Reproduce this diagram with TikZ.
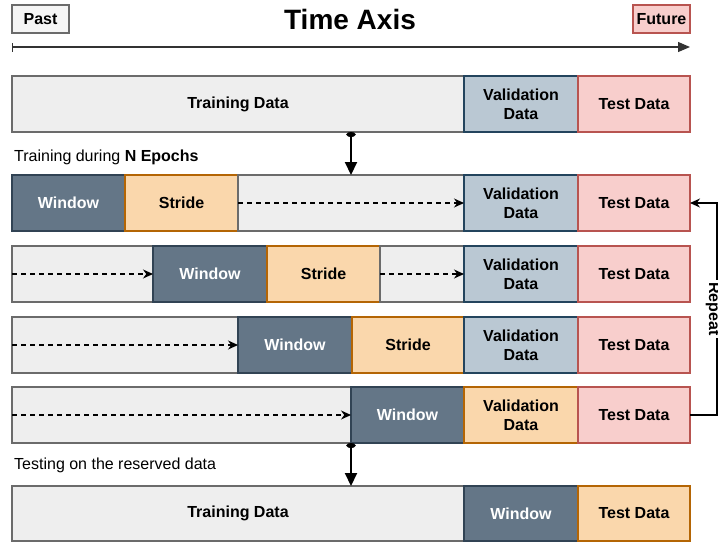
\documentclass[tikz,border=0pt]{standalone}
\usepackage{fontspec}
\setmainfont{Liberation Sans}
\usetikzlibrary{positioning,arrows.meta}

\definecolor{trainfill}{HTML}{EEEEEE}
\definecolor{trainline}{HTML}{6B6B6B}
\definecolor{winfill}{HTML}{647687}
\definecolor{winline}{HTML}{314354}
\definecolor{stridefill}{HTML}{FAD7AC}
\definecolor{strideline}{HTML}{B46504}
\definecolor{validfill}{HTML}{BAC8D3}
\definecolor{validline}{HTML}{23445D}
\definecolor{testfill}{HTML}{F8CECC}
\definecolor{testline}{HTML}{B85450}
\definecolor{pastfill}{HTML}{F5F5F5}

\tikzset{
  seg/.style={rectangle, draw, line width=1.2pt, minimum height=56pt,
    inner sep=0pt, outer sep=0pt, align=center,
    font=\bfseries\fontsize{16}{19}\selectfont},
  train/.style={seg, fill=trainfill, draw=trainline},
  win/.style={seg, fill=winfill, draw=winline, text=white},
  stride/.style={seg, fill=stridefill, draw=strideline},
  valid/.style={seg, fill=validfill, draw=validline},
  test/.style={seg, fill=testfill, draw=testline},
  flow/.style={-{Stealth[length=10pt,width=9pt]}, line width=1.2pt,
    dash pattern=on 5pt off 4pt},
  drop/.style={{Circle[length=5pt,width=9pt]}-{Triangle[length=13pt,width=12pt]},
    line width=2pt},
  caption/.style={anchor=west, inner sep=0pt, font=\fontsize{16}{19}\selectfont},
  tag/.style={rectangle, draw, line width=1.2pt, minimum width=57pt,
    minimum height=28pt, inner sep=0pt, font=\bfseries\fontsize{16}{19}\selectfont}
}

\begin{document}
\begin{tikzpicture}[x=1pt,y=-1pt]
    \useasboundingbox (0,0) rectangle (718,542);

    % time axis
    \node[tag, fill=pastfill, draw=trainline] (past) at (40.5,19) {Past};
    \node[tag, fill=testfill, draw=testline] (future) at (661.5,19) {Future};
    \node[font=\bfseries\fontsize{28}{32}\selectfont] (title) at (350,19) {Time Axis};
    \coordinate (axisL) at (12,47);
    \coordinate (axisR) at (690,47);
    \draw[{Bar[width=9pt]}-{Triangle[length=12pt,width=10pt]}, line width=1.2pt,
      draw=black!80] (axisL) -- (axisR);

    % row 1
    \node[train, minimum width=452pt, anchor=north west] (train1) at (12,76) {Training Data};
    \node[valid, minimum width=114pt, right=0pt of train1] (val1) {Validation\\Data};
    \node[test, minimum width=112pt, right=0pt of val1] (test1) {Test Data};

    \node[caption] (epochs) at (14,157) {Training during \textbf{N Epochs}};

    % row 2
    \node[win, minimum width=113pt, anchor=north west] (win2) at (12,175) {Window};
    \node[stride, minimum width=113pt, right=0pt of win2] (str2) {Stride};
    \node[train, minimum width=226pt, right=0pt of str2] (gap2) {};
    \node[valid, minimum width=114pt, right=0pt of gap2] (val2) {Validation\\Data};
    \node[test, minimum width=112pt, right=0pt of val2] (test2) {Test Data};
    \draw[flow] (gap2.west) -- (gap2.east);

    % row 3
    \node[train, minimum width=141pt, anchor=north west] (gapA3) at (12,246) {};
    \node[win, minimum width=114pt, right=0pt of gapA3] (win3) {Window};
    \node[stride, minimum width=113pt, right=0pt of win3] (str3) {Stride};
    \node[train, minimum width=84pt, right=0pt of str3] (gapB3) {};
    \node[valid, minimum width=114pt, right=0pt of gapB3] (val3) {Validation\\Data};
    \node[test, minimum width=112pt, right=0pt of val3] (test3) {Test Data};
    \draw[flow] (gapA3.west) -- (gapA3.east);
    \draw[flow] (gapB3.west) -- (gapB3.east);

    % row 4
    \node[train, minimum width=226pt, anchor=north west] (gap4) at (12,317) {};
    \node[win, minimum width=114pt, right=0pt of gap4] (win4) {Window};
    \node[stride, minimum width=112pt, right=0pt of win4] (str4) {Stride};
    \node[valid, minimum width=114pt, right=0pt of str4] (val4) {Validation\\Data};
    \node[test, minimum width=112pt, right=0pt of val4] (test4) {Test Data};
    \draw[flow] (gap4.west) -- (gap4.east);

    % row 5
    \node[train, minimum width=339pt, anchor=north west] (gap5) at (12,387) {};
    \node[win, minimum width=113pt, right=0pt of gap5] (win5) {Window};
    \node[stride, minimum width=114pt, right=0pt of win5] (val5) {Validation\\Data};
    \node[test, minimum width=112pt, right=0pt of val5] (test5) {Test Data};
    \draw[flow] (gap5.west) -- (gap5.east);

    \node[caption] (reserved) at (14,465) {Testing on the reserved data};

    % row 6
    \node[train, minimum width=452pt, minimum height=55pt, anchor=north west] (train6) at (12,486) {Training Data};
    \node[win, minimum width=114pt, minimum height=55pt, right=0pt of train6] (win6) {Window};
    \node[stride, minimum width=112pt, minimum height=55pt, right=0pt of win6] (test6) {Test Data};

    % arrows between stages
    \draw[drop] (gap2.north |- train1.south) -- (gap2.north);
    \draw[drop] (win5.south west) -- (win5.south west |- train6.north);

    % repeat loop
    \draw[-{Stealth[length=10pt,width=9pt]}, line width=1.2pt] (test5.east) -- ++(27,0)
      |- (test2.east) node[pos=0.25, xshift=-4pt, rotate=-90, fill=white, inner sep=2pt,
      font=\bfseries\fontsize{16}{19}\selectfont] (repeat) {Repeat};

\end{tikzpicture}
\end{document}
